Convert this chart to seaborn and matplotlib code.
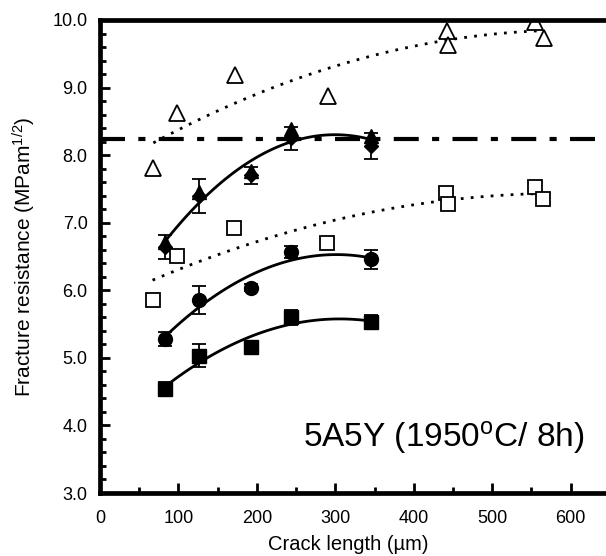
import numpy as np
import pandas as pd
import matplotlib
matplotlib.use("Agg")
import matplotlib.pyplot as plt
import seaborn as sns
from matplotlib.ticker import MultipleLocator, FormatStrFormatter

sns.set_theme(style="white")
plt.rcParams['font.family'] = ['Liberation Sans', 'DejaVu Sans']
plt.rcParams['mathtext.fontset'] = 'custom'
plt.rcParams['mathtext.rm'] = 'Liberation Sans'
plt.rcParams['mathtext.it'] = 'Liberation Sans:italic'
plt.rcParams['mathtext.bf'] = 'Liberation Sans:bold'

# ---- data ----
crack_len = [83, 126, 193, 243, 346]
sq_filled = [4.54, 5.03, 5.16, 5.60, 5.53]
sq_err = [0.10, 0.17, 0.07, 0.11, 0.11]
circ_filled = [5.28, 5.86, 6.04, 6.57, 6.46]
circ_err = [0.10, 0.21, 0.05, 0.09, 0.14]
tri_filled = [6.72, 7.45, 7.76, 8.38, 8.29]
dia_filled = [6.64, 7.39, 7.70, 8.25, 8.14]
dia_err = [0.18, 0.25, 0.13, 0.17, 0.19]

open_x_tri = [68, 98, 172, 290, 442, 444, 555, 566]
open_tri = [7.81, 8.62, 9.19, 8.88, 9.84, 9.63, 9.97, 9.74]
open_x_sq = [67, 98, 171, 289, 441, 443, 554, 565]
open_sq = [5.86, 6.51, 6.92, 6.70, 7.44, 7.28, 7.53, 7.35]

ref_level = 8.24
label_text = "5A5Y (1950$^{\\mathrm{o}}$C/ 8h)"
x_ticks = [0, 100, 200, 300, 400, 500, 600]
y_ticks = [3.0, 4.0, 5.0, 6.0, 7.0, 8.0, 9.0, 10.0]

fig = plt.figure(figsize=(6.06, 5.56), dpi=100)
ax = fig.add_axes([100/606, 1-493/556, 506/606, (493-20)/556])

k = 'black'
dotted = (0, (1, 2.6))

# fitted curves
sns.regplot(x=crack_len, y=sq_filled, order=2, ci=None, scatter=False, ax=ax,
            line_kws=dict(color=k, lw=2.0))
sns.regplot(x=crack_len, y=circ_filled, order=2, ci=None, scatter=False, ax=ax,
            line_kws=dict(color=k, lw=2.0))
sns.regplot(x=crack_len + crack_len, y=tri_filled + dia_filled, order=2, ci=None,
            scatter=False, ax=ax, line_kws=dict(color=k, lw=2.0))
sns.regplot(x=open_x_tri, y=open_tri, order=2, ci=None, scatter=False, ax=ax,
            line_kws=dict(color=k, lw=2.0, linestyle=dotted))
sns.regplot(x=open_x_sq, y=open_sq, order=2, ci=None, scatter=False, ax=ax,
            line_kws=dict(color=k, lw=2.0, linestyle=dotted))

# reference line
ax.axhline(ref_level, color=k, lw=3, linestyle=(0, (6, 3.2, 1.7, 3.2)))

# error bars
eb = dict(fmt='none', ecolor=k, elinewidth=1.3, capsize=4.7, capthick=1.3)
ax.errorbar(crack_len, sq_filled, yerr=sq_err, **eb)
ax.errorbar(crack_len, circ_filled, yerr=circ_err, **eb)
ax.errorbar(crack_len, dia_filled, yerr=dia_err, **eb)

# markers
ax.plot(crack_len, sq_filled, 's', color=k, ms=9.5, ls='none')
ax.plot(crack_len, circ_filled, 'o', color=k, ms=10, ls='none')
ax.plot(crack_len, tri_filled, '^', color=k, ms=10, ls='none')
ax.plot(crack_len, dia_filled, 'D', color=k, ms=7.5, ls='none')
ax.plot(open_x_tri, open_tri, '^', mfc='white', mec=k, mew=1.3, ms=11, ls='none')
ax.plot(open_x_sq, open_sq, 's', mfc='white', mec=k, mew=1.3, ms=9.5, ls='none')

ax.text(259, 3.68, label_text, fontsize=24, ha='left', va='baseline', color=k)

ax.set_xlim(0, 645)
ax.set_ylim(3.0, 10.0)
ax.set_xticks(x_ticks)
ax.set_yticks(y_ticks)
ax.xaxis.set_minor_locator(MultipleLocator(50))
ax.yaxis.set_minor_locator(MultipleLocator(0.2))
ax.yaxis.set_major_formatter(FormatStrFormatter('%.1f'))

for s in ['left', 'bottom', 'top']:
    ax.spines[s].set_color(k)
    ax.spines[s].set_linewidth(3.4)
ax.spines['right'].set_visible(False)

ax.tick_params(which='both', direction='in', color=k, width=2.0, labelcolor=k,
               left=True, bottom=True, top=False, right=False)
ax.tick_params(which='major', length=7.5, labelsize=13)
ax.tick_params(which='minor', length=4.5)
ax.tick_params(axis='x', which='major', pad=12)
ax.tick_params(axis='y', which='major', pad=9)

ax.set_xlabel("Crack length (\u00b5m)", fontsize=14.5, color=k)
ax.set_ylabel("Fracture resistance (MPam$^{1/2}$)", fontsize=15, color=k)
ax.xaxis.set_label_coords(0.49, -0.088)
ax.yaxis.set_label_coords(-0.122, 0.5)
ax.grid(False)

fig.savefig("out.png", dpi=100)
